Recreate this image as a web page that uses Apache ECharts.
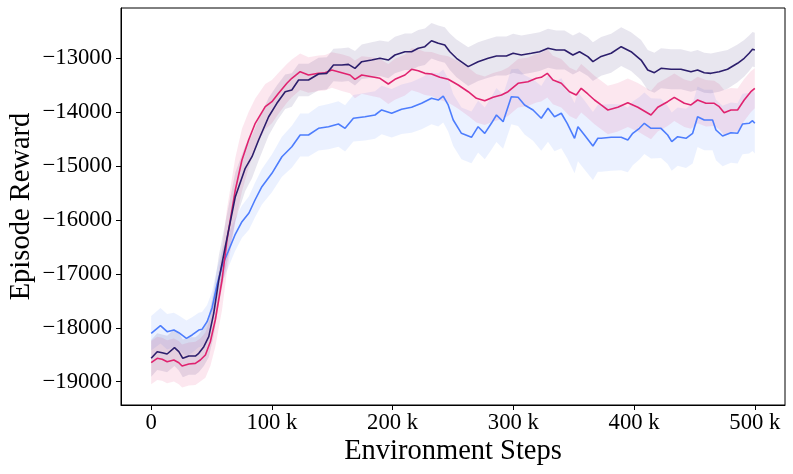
<!DOCTYPE html>
<html>
<head>
<meta charset="utf-8">
<script src="https://cdn.jsdelivr.net/npm/echarts@6/dist/echarts.min.js"></script>
<style>
html,body{margin:0;padding:0;background:#fff;}
#c{width:793px;height:474px;}
</style>
</head>
<body>
<div id="c"></div>
<script>
// [step (k), mean reward, band half-width]
const blueData = [
[0,-18102,320],[7.7,-17961,330],[13.2,-18072,330],[18.8,-18041,320],[22.9,-18091,320],[29.2,-18195,330],[33.9,-18133,330],[39.4,-18041,320],[42.1,-18028,320],[46.3,-17886,310],
[50.4,-17633,300],[54.5,-17206,300],[58.7,-16853,300],[63.6,-16594,300],[69.4,-16278,300],[75.2,-16031,300],[81.0,-15870,310],[86.0,-15629,320],[91.7,-15382,330],
[100,-15134,350],[108.3,-14826,370],[116.5,-14640,390],[123.4,-14423,400],[130.3,-14423,400],[138.6,-14299,410],[146.9,-14269,420],[155.1,-14219,420],[160.6,-14299,430],[167.5,-14113,430],[177.1,-14084,440],[185.4,-14052,440],[190.9,-13959,450],[199.2,-14020,450],[207.4,-13946,460],[215.7,-13909,470],[224.0,-13835,480],[232.2,-13742,480],[237.8,-13774,490],[241.9,-13700,490],[246.0,-13866,490],
[250.2,-14145,480],[257.0,-14392,480],[265.3,-14466,480],[270.8,-14269,480],[276.3,-14392,480],[281.8,-14206,490],[286.0,-14052,500],[291.5,-14176,500],[298.3,-13712,510],
[303.9,-13724,530],[309.3,-13866,550],[316.3,-13959,570],[323.1,-14113,600],[328.7,-13928,620],[334.1,-14084,640],[339.7,-14020,650],[344.6,-14206,650],[350.7,-14484,650],[353.5,-14269,640],[358.9,-14423,640],[365.9,-14627,630],[370.0,-14484,620],[372.7,-14484,620],
[381.0,-14466,620],[389.3,-14466,610],[394.8,-14516,600],[398.9,-14392,590],[404.4,-14299,580],[408.5,-14206,570],[414.0,-14299,560],[422.3,-14299,550],[427.8,-14423,540],[431.2,-14547,540],[436.1,-14455,540],[443.0,-14484,550],[448.5,-14392,560],[452.6,-14084,560],[458.1,-14145,560],[465.0,-14145,560],[467.8,-14330,560],[473.3,-14442,560],[480.2,-14380,560],[485.7,-14392,560],[489.8,-14219,560],[495.3,-14206,560],[498.1,-14158,560],[500,-14206,560]
];
const navyData = [
[0,-18566,340],[5.0,-18443,340],[9.1,-18462,340],[13.2,-18486,340],[19.3,-18369,340],[22.9,-18443,350],[26.2,-18566,350],[31.2,-18523,350],[36.6,-18523,350],[39.4,-18473,350],[43.6,-18350,360],[47.7,-18165,380],
[51.8,-17731,420],[56.0,-17113,450],[61.4,-16495,450],[69.7,-15568,450],[77.9,-15041,420],[83.5,-14826,400],[89.0,-14516,380],[97.3,-14084,350],[104.1,-13835,330],[111.0,-13620,320],[116.5,-13588,310],[122.1,-13403,300],
[130.3,-13403,300],[138.6,-13291,300],[145.5,-13279,300],[151.0,-13124,300],[157.9,-13124,310],[163.4,-13112,310],[168.8,-13186,320],[174.4,-13063,320],[182.6,-13032,330],[189.5,-13000,330],[196.4,-13032,340],[201.9,-12939,340],[210.2,-12878,340],[215.7,-12878,340],[221.2,-12814,340],[226.7,-12785,340],[232.2,-12674,330],[237.8,-12722,330],[243.2,-12753,330],[247.4,-12878,340],
[252.9,-13000,350],[262.6,-13155,360],[270.8,-13063,360],[279.1,-13000,360],[286.0,-12957,360],[294.2,-12957,360],[299.8,-12907,360],[306.6,-12939,360],[314.9,-12907,360],[321.7,-12878,360],[328.7,-12814,360],[335.5,-12846,360],[342.4,-12846,360],[349.3,-12939,360],[354.8,-12878,360],[361.7,-12970,360],[365.9,-13063,360],[372.7,-12965,360],
[381.0,-12907,360],[389.3,-12785,360],[397.5,-12878,360],[405.8,-13032,370],[411.3,-13217,370],[416.8,-13267,370],[422.3,-13186,370],[430.6,-13204,370],[438.8,-13204,370],[447.1,-13249,370],[452.6,-13217,370],[458.1,-13267,370],[463.6,-13279,370],[470.5,-13249,370],[477.4,-13204,360],[485.7,-13093,350],[491.2,-13000,340],[495.3,-12907,330],[498.1,-12833,320],[500,-12846,320]
];
const crimsonData = [
[0,-18647,400],[5.0,-18566,400],[9.1,-18584,400],[13.2,-18629,400],[18.8,-18597,400],[22.9,-18647,400],[25.6,-18709,400],[31.2,-18672,400],[36.6,-18659,400],[40.7,-18597,400],[44.9,-18505,420],[49.0,-18258,450],
[53.1,-17855,500],[58.7,-17113,550],[62.8,-16371,580],[69.7,-15443,600],[75.2,-14887,580],[80.7,-14516,520],[86.2,-14206,460],[94.5,-13898,420],[100,-13805,400],[105.5,-13650,380],[112.4,-13464,360],[116.5,-13371,350],[123.4,-13249,340],
[130.3,-13310,330],[138.6,-13279,330],[144.0,-13267,330],[149.6,-13217,330],[157.9,-13267,340],[164.7,-13310,340],[168.8,-13390,350],[174.4,-13310,350],[182.6,-13341,360],[189.5,-13371,360],[196.4,-13477,370],[201.9,-13390,380],[210.2,-13310,380],[215.7,-13204,390],[221.2,-13230,400],[226.7,-13279,400],[232.2,-13291,410],[239.1,-13353,420],[246.0,-13390,430],
[254.3,-13495,440],[262.6,-13620,450],[269.4,-13742,450],[276.3,-13787,450],[283.2,-13724,450],[290.1,-13681,450],[295.6,-13620,450],[303.9,-13464,450],[312.1,-13434,450],[319.0,-13371,450],[323.1,-13353,450],[328.1,-13279,450],[332.8,-13403,450],[339.7,-13464,450],[346.5,-13620,450],[352.1,-13681,450],[356.2,-13557,450],[361.7,-13662,450],[367.2,-13774,450],[372.7,-13866,450],
[378.3,-13959,450],[386.5,-13909,450],[394.8,-13824,450],[403.1,-13909,450],[414.0,-14052,450],[419.6,-13909,450],[427.8,-13805,450],[433.3,-13724,440],[441.6,-13835,440],[447.1,-13866,440],[452.6,-13774,430],[459.5,-13835,430],[466.4,-13835,420],[470.5,-13898,420],[474.6,-14009,420],[480.2,-13959,410],[485.7,-13959,400],[491.2,-13774,390],[496.7,-13620,380],[500,-13557,370]
];
const xTicks = [0, 100, 200, 300, 400, 500];
const yTicks = [-19000, -18000, -17000, -16000, -15000, -14000, -13000];
const xTitle = 'Environment Steps';
const yTitle = 'Episode Reward';

const FONT = '"Liberation Serif", "Times New Roman", serif';
const seriesDefs = [
  {name: 'blue', data: blueData, color: '#4d7dfd'},
  {name: 'crimson', data: crimsonData, color: '#e0236f'},
  {name: 'navy', data: navyData, color: '#2c1e6c'}
];

const series = [];
seriesDefs.forEach((s) => {
  series.push({
    type: 'custom', silent: true, z: 1, clip: true,
    data: [[s.data[0][0], s.data[0][1]]],
    renderItem: function (params, api) {
      const pts = [];
      s.data.forEach(r => pts.push(api.coord([r[0], r[1] + r[2]])));
      for (let k = s.data.length - 1; k >= 0; k--) {
        const r = s.data[k];
        pts.push(api.coord([r[0], r[1] - r[2]]));
      }
      return {type: 'polygon', shape: {points: pts}, style: {fill: s.color, opacity: 0.11}};
    }
  });
});
seriesDefs.forEach((s) => {
  series.push({
    type: 'line', name: s.name,
    data: s.data.map(r => [r[0], r[1]]),
    symbol: 'none', lineStyle: {color: s.color, width: 1.6}, z: 3
  });
});

const chart = echarts.init(document.getElementById('c'));
chart.setOption({
  animation: false,
  backgroundColor: '#fff',
  grid: {left: 121, right: 8, top: 8, bottom: 69, show: true, borderColor: '#000', borderWidth: 1,
    backgroundColor: 'transparent', containLabel: false, outerBoundsMode: 'none'},
  xAxis: {
    type: 'value', min: -25, max: 525,
    name: xTitle, nameLocation: 'middle', nameGap: 32, nameMoveOverlap: false,
    nameTextStyle: {fontFamily: FONT, fontSize: 28.5, color: '#000'},
    axisLine: {show: true, onZero: false, lineStyle: {color: '#000', width: 1}},
    axisTick: {show: true, length: 5, inside: false, customValues: xTicks, lineStyle: {color: '#000', width: 1}},
    axisLabel: {customValues: xTicks, margin: 7, fontFamily: FONT, fontSize: 22.7, color: '#000',
      formatter: v => v === 0 ? '0' : v + ' k'},
    splitLine: {show: false}
  },
  yAxis: {
    type: 'value', min: -19432, max: -12067,
    name: yTitle, nameLocation: 'middle', nameGap: 85, nameRotate: 90, nameMoveOverlap: false,
    nameTextStyle: {fontFamily: FONT, fontSize: 28.5, color: '#000'},
    axisLine: {show: true, onZero: false, lineStyle: {color: '#000', width: 1}},
    axisTick: {show: true, length: 5, inside: false, customValues: yTicks, lineStyle: {color: '#000', width: 1}},
    axisLabel: {customValues: yTicks, margin: 9, fontFamily: FONT, fontSize: 22.7, color: '#000',
      formatter: v => v < 0 ? '\u2212' + Math.abs(v) : String(v)},
    splitLine: {show: false}
  },
  series: series
});
</script>
</body>
</html>
